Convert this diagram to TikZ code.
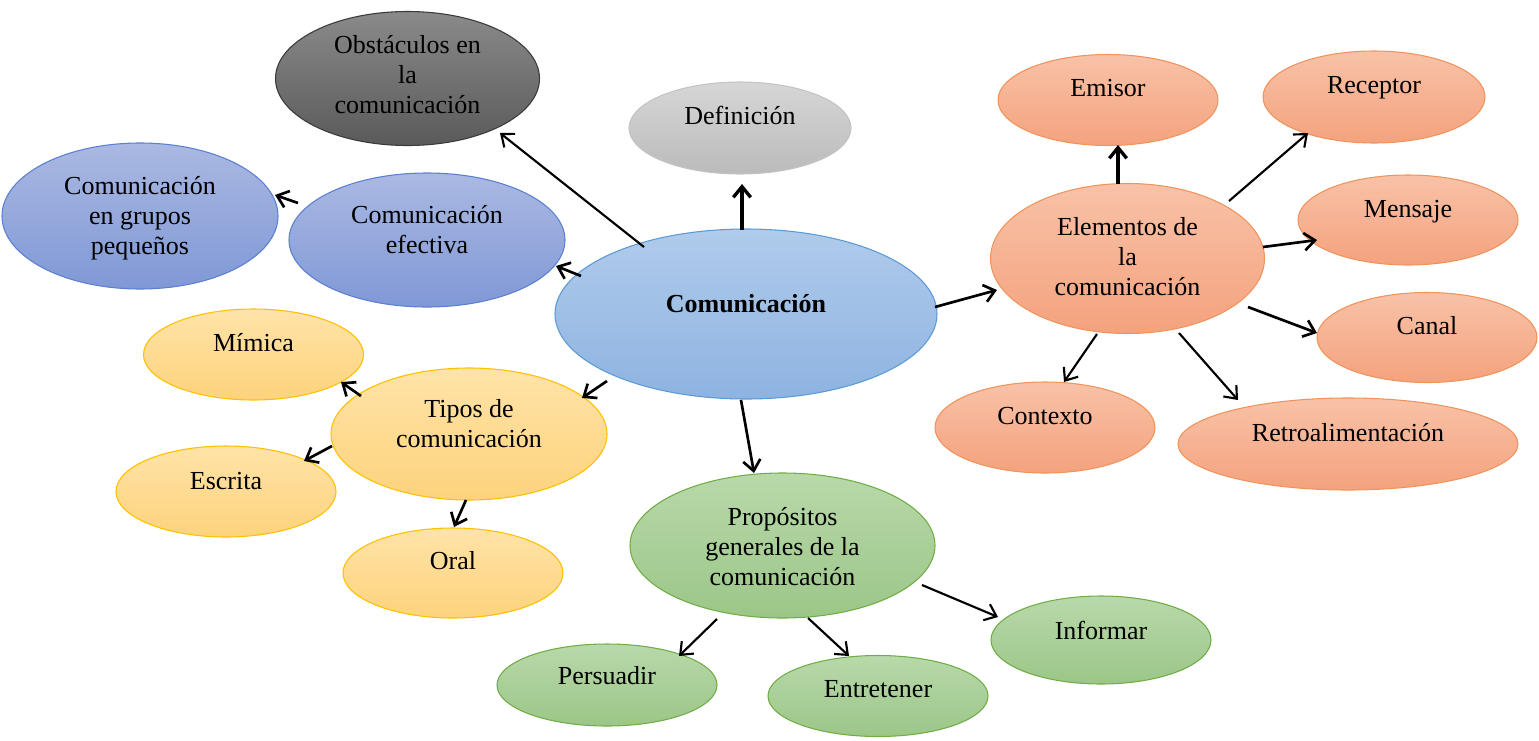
\documentclass[tikz,border=0pt]{standalone}
\usepackage{fontspec}
\setmainfont{Liberation Serif}
\usetikzlibrary{arrows.meta,calc,shapes.geometric}
\definecolor{obT}{HTML}{8A8A8A}\definecolor{obB}{HTML}{5A5A5A}\definecolor{obD}{HTML}{3A3A3A}
\definecolor{dfT}{HTML}{D6D6D6}\definecolor{dfB}{HTML}{BBBBBB}\definecolor{dfD}{HTML}{C4C4C4}
\definecolor{puT}{HTML}{AAB9E2}\definecolor{puB}{HTML}{8098D6}\definecolor{puD}{HTML}{5B7FD1}
\definecolor{bcT}{HTML}{B0CBEB}\definecolor{bcB}{HTML}{8EB3E1}\definecolor{bcD}{HTML}{5B9BD5}
\definecolor{orT}{HTML}{F8C2A8}\definecolor{orB}{HTML}{F4A27D}\definecolor{orD}{HTML}{F0945C}
\definecolor{yeT}{HTML}{FFE3A8}\definecolor{yeB}{HTML}{FDD37C}\definecolor{yeD}{HTML}{FFC000}
\definecolor{grT}{HTML}{B8D9AA}\definecolor{grB}{HTML}{9CC688}\definecolor{grD}{HTML}{70AD47}
\newcommand\tx[2]{\raisebox{#1}[\height][\depth]{\begin{tabular}{@{}c@{}}#2\end{tabular}}}
\begin{document}
\begin{tikzpicture}[x=0.75pt,y=-0.75pt,
  ell/.style={ellipse, inner sep=0pt, outer sep=0pt, line width=0.8pt,
    font=\fontsize{19.5}{22.5}\selectfont},
  sz/.style 2 args={minimum width=#1*1.5pt, minimum height=#2*1.5pt},
  obsc/.style={ell, draw=obD, top color=obT, bottom color=obB},
  defn/.style={ell, draw=dfD, top color=dfT, bottom color=dfB},
  purp/.style={ell, draw=puD, top color=puT, bottom color=puB},
  bluec/.style={ell, draw=bcD, top color=bcT, bottom color=bcB},
  oran/.style={ell, draw=orD, top color=orT, bottom color=orB},
  yell/.style={ell, draw=yeD, top color=yeT, bottom color=yeB},
  gree/.style={ell, draw=grD, top color=grT, bottom color=grB},
  arr/.style={-{Straight Barb[length=8pt,width=13pt]}, line width=2pt, black},
  thinarr/.style={arr, line width=1.6pt},
  thickarr/.style={arr, line width=2.5pt}]
\useasboundingbox (0,0) rectangle (1539,740);

% nodes
\node[obsc, sz={132}{67}] (obst) at (407.5,78.5) {\tx{1pt}{Obstáculos en\\la\\comunicación}};
\node[defn, sz={111}{46}] (def) at (740,128) {\tx{7pt}{Definición}};
\node[purp, sz={138}{73}] (grupos) at (140,216) {\tx{-1.5pt}{Comunicación\\en grupos\\pequeños}};
\node[purp, sz={138}{67}] (efect) at (427,240) {\tx{6pt}{Comunicación\\efectiva}};
\node[bluec, sz={191}{85}] (main) at (746,314) {\tx{6pt}{\textbf{Comunicación}}};
\node[oran, sz={110}{45.5}] (emisor) at (1108,100) {\tx{7.5pt}{Emisor}};
\node[oran, sz={111}{46}] (receptor) at (1374,97) {\tx{7.5pt}{Receptor}};
\node[oran, sz={110}{45}] (mensaje) at (1408,220) {\tx{6.5pt}{Mensaje}};
\node[oran, sz={137}{75}] (elem) at (1127.5,258.5) {\tx{-1pt}{Elementos de\\la\\comunicación}};
\node[oran, sz={110}{45}] (canal) at (1427,337.5) {\tx{6.8pt}{Canal}};
\node[oran, sz={110}{45.5}] (contexto) at (1045,427.5) {\tx{6.8pt}{Contexto}};
\node[oran, sz={170}{46}] (retro) at (1348,444) {\tx{6.3pt}{Retroalimentación}};
\node[yell, sz={110}{45.5}] (mimica) at (253.5,354.5) {\tx{6.8pt}{Mímica}};
\node[yell, sz={138}{66}] (tipos) at (469,434) {\tx{6pt}{Tipos de\\comunicación}};
\node[yell, sz={110}{45.5}] (escrita) at (226,491.5) {\tx{6pt}{Escrita}};
\node[yell, sz={110}{45}] (oral) at (453,573) {\tx{7pt}{Oral}};
\node[gree, sz={152.5}{72.5}] (prop) at (782.5,545.5) {\tx{-3pt}{Propósitos\\generales de la\\comunicación}};
\node[gree, sz={110}{41}] (persuadir) at (607,685) {\tx{5pt}{Persuadir}};
\node[gree, sz={110}{40.5}] (entretener) at (878,696) {\tx{3.5pt}{Entretener}};
\node[gree, sz={110}{44}] (informar) at (1101,640) {\tx{5pt}{Informar}};

% connectors
\draw[thinarr] ($(main)+(-102,-67)$) -- ($(obst)+(92.5,54.5)$);
\draw[thickarr] ($(main)+(-4,-84)$) -- ($(def)+(2,56)$);
\draw[arr] ($(main)+(-165,-38)$) -- ($(efect)+(129,26)$);
\draw[arr] ($(efect)+(-129,-37)$) -- ($(grupos)+(135,-21)$);
\draw[arr] ($(main)+(-139,67)$) -- ($(tipos)+(113,-36)$);
\draw[arr] ($(main)+(-5,86)$) -- ($(prop)+(-28.5,-72.5)$);
\draw[arr] ($(main)+(189,-7)$) -- ($(elem)+(-130.5,31.5)$);
\draw[thickarr] ($(elem)+(-9.5,-74.5)$) -- ($(emisor)+(10,45)$);
\draw[thinarr] ($(elem)+(101.5,-57.5)$) -- ($(receptor)+(-66,36)$);
\draw[arr] ($(elem)+(135.5,-11.5)$) -- ($(mensaje)+(-91,20)$);
\draw[arr] ($(elem)+(120.5,48.5)$) -- ($(canal)+(-110,-4.5)$);
\draw[thinarr] ($(elem)+(-30.5,75.5)$) -- ($(contexto)+(19,-45.5)$);
\draw[thinarr] ($(elem)+(51.5,74.5)$) -- ($(retro)+(-110,-44)$);
\draw[arr] ($(tipos)+(-108,-38)$) -- ($(mimica)+(87.5,27.5)$);
\draw[arr] ($(tipos)+(-137,12)$) -- ($(escrita)+(78,-30.5)$);
\draw[arr] ($(tipos)+(-3,66)$) -- ($(oral)+(1,-46)$);
\draw[thinarr] ($(prop)+(-65.5,73.5)$) -- ($(persuadir)+(72,-29)$);
\draw[thinarr] ($(prop)+(25.5,72.5)$) -- ($(entretener)+(-29,-40)$);
\draw[thinarr] ($(prop)+(139.5,39.5)$) -- ($(informar)+(-103,-23)$);
\end{tikzpicture}
\end{document}
